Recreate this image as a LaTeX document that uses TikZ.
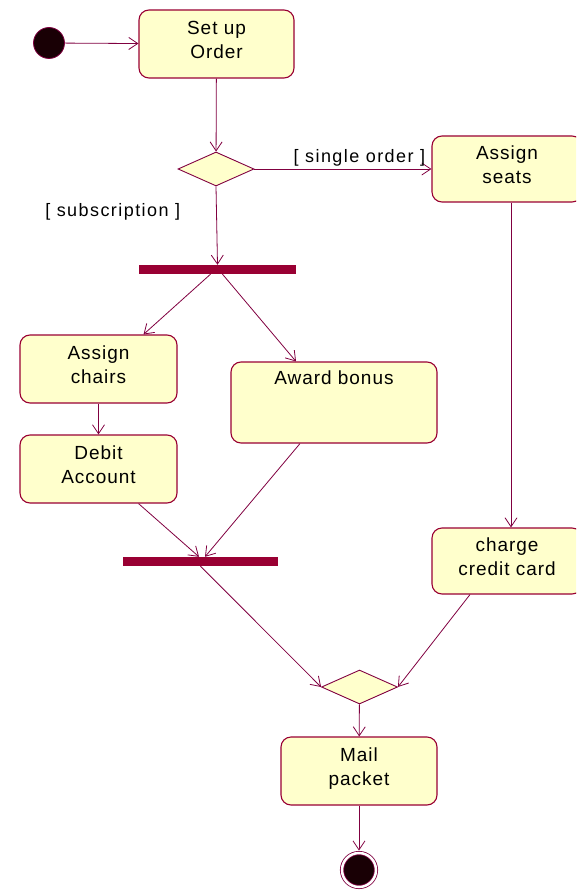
\documentclass[tikz,border=0pt]{standalone}
\usepackage{fontspec}
\setmainfont{Liberation Sans}
\usepackage{xcolor}
\usetikzlibrary{arrows.meta,shapes.geometric,positioning}
\definecolor{actline}{RGB}{128,0,64}
\definecolor{actfill}{RGB}{255,255,204}
\definecolor{actbarc}{RGB}{153,0,51}
\definecolor{actdot}{RGB}{25,0,5}
\tikzset{
  actbox/.style={rectangle, rounded corners=10pt, draw=actbarc, line width=1.1pt,
                 fill=actfill, align=center, inner sep=2pt, text depth=8pt,
                 font=\fontsize{19}{24}\selectfont\addfontfeature{LetterSpace=5}},
  actdec/.style={diamond, draw=actline, line width=0.9pt, fill=actfill,
                 inner sep=0pt, minimum width=76pt, minimum height=34pt},
  actbar/.style={rectangle, fill=actbarc, inner sep=0pt, minimum height=9pt},
  actstart/.style={circle, draw=actline, fill=actdot, line width=0.8pt,
                   inner sep=0pt, minimum size=31pt},
  actend/.style={circle, draw=actline, double=white, double distance=2.5pt,
                 line width=0.8pt, fill=actdot, inner sep=0pt, minimum size=34pt},
  actflow/.style={draw=actline, line width=0.8pt,
                  -{Straight Barb[length=9pt,width=12pt,line width=0.8pt]}},
  actlab/.style={font=\fontsize{18}{22}\selectfont\addfontfeature{LetterSpace=8},
                 inner sep=2pt}
}
\begin{document}
\begin{tikzpicture}[x=1pt, y=-1pt]
  \clip (0,0) rectangle (576,890);
  % initial node and first action
  \node[actstart] (start) at (49,43) {};
  \node[actbox, minimum width=155pt, minimum height=68pt] (setup) at (216.5,44) {Set up\\Order};
  \node[actdec] (dec1) at (216,169) {};
  \node[actbox, minimum width=150pt, minimum height=66pt] (seats) at (507,169) {Assign\\seats};
  % fork
  \node[actbar, minimum width=157pt] (fork) at (217.5,269.5) {};
  \node[actbox, minimum width=157pt, minimum height=68pt] (chairs) at (98.5,369) {Assign\\chairs};
  \node[actbox, minimum width=206pt, minimum height=81pt,
        label={[anchor=north, yshift=-6pt, font=\fontsize{19}{24}\selectfont\addfontfeature{LetterSpace=5}]north:Award bonus}] (bonus) at (334,402.5) {};
  \node[actbox, minimum width=157pt, minimum height=68pt] (debit) at (98.5,469) {Debit\\Account};
  % join
  \node[actbar, minimum width=155pt] (join) at (200.5,561.5) {};
  \node[actbox, minimum width=150pt, minimum height=66pt] (charge) at (507,561) {charge\\credit card};
  % merge and final
  \node[actdec] (dec2) at (359.5,687) {};
  \node[actbox, minimum width=156pt, minimum height=68pt] (mail) at (359,771) {Mail\\packet};
  \node[actend] (stop) at (359,870) {};

  \draw[actflow] (start) -- (setup);
  \draw[actflow] (setup) -- (dec1);
  \draw[actflow] (dec1.east) -- node[actlab, pos=1, above left, xshift=-4pt] {[ single order ]} (seats.west);
  \draw[actflow] (dec1.south) -- node[actlab, pos=0.33, left=34pt] {[ subscription ]} (fork.north);
  \draw[actflow] ([xshift=-7pt]fork.south) -- ([xshift=45pt]chairs.north);
  \draw[actflow] ([xshift=5pt]fork.south) -- ([xshift=-38pt]bonus.north);
  \draw[actflow] (chairs) -- (debit);
  \draw[actflow] ([xshift=40pt]debit.south) -- ([xshift=-1.5pt]join.north);
  \draw[actflow] ([xshift=-34pt]bonus.south) -- ([xshift=4.5pt]join.north);
  \draw[actflow] ([xshift=4pt]seats.south) -- ([xshift=4pt]charge.north);
  \draw[actflow] (join.south) -- (dec2.west);
  \draw[actflow] ([xshift=-37pt]charge.south) -- (dec2.east);
  \draw[actflow] (dec2) -- (mail);
  \draw[actflow, shorten >=2pt] (mail) -- (stop);
\end{tikzpicture}
\end{document}
